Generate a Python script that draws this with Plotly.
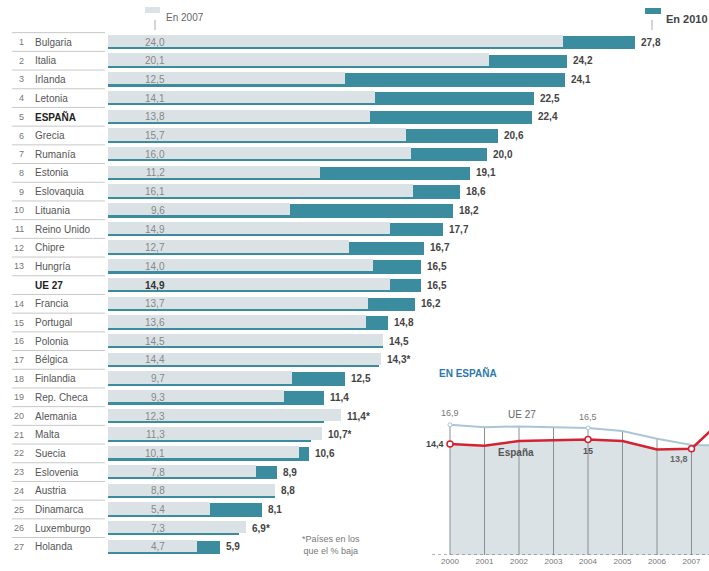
import plotly.graph_objects as go

W, H = 709, 571

countries = ["Bulgaria", "Italia", "Irlanda", "Letonia", "ESPAÑA", "Grecia", "Rumanía",
             "Estonia", "Eslovaquia", "Lituania", "Reino Unido", "Chipre", "Hungría",
             "UE 27", "Francia", "Portugal", "Polonia", "Bélgica", "Finlandia",
             "Rep. Checa", "Alemania", "Malta", "Suecia", "Eslovenia", "Austria",
             "Dinamarca", "Luxemburgo", "Holanda"]
ranks = ["1", "2", "3", "4", "5", "6", "7", "8", "9", "10", "11", "12", "13", "",
         "14", "15", "16", "17", "18", "19", "20", "21", "22", "23", "24", "25", "26", "27"]
v2007 = [24.0, 20.1, 12.5, 14.1, 13.8, 15.7, 16.0, 11.2, 16.1, 9.6, 14.9, 12.7, 14.0,
         14.9, 13.7, 13.6, 14.5, 14.4, 9.7, 9.3, 12.3, 11.3, 10.1, 7.8, 8.8, 5.4, 7.3, 4.7]
v2010 = [27.8, 24.2, 24.1, 22.5, 22.4, 20.6, 20.0, 19.1, 18.6, 18.2, 17.7, 16.7, 16.5,
         16.5, 16.2, 14.8, 14.5, 14.3, 12.5, 11.4, 11.4, 10.7, 10.6, 8.9, 8.8, 8.1, 6.9, 5.9]
bold_rows = ["ESPAÑA", "UE 27"]
bold_2007 = ["UE 27"]

years = [2000, 2001, 2002, 2003, 2004, 2005, 2006, 2007, 2008, 2009, 2010]
espana = [14.4, 14.2, 14.8, 14.9, 15.0, 14.8, 13.7, 13.8, 18.0, 20.5, 22.4]
ue27 = [16.9, 16.6, 16.7, 16.6, 16.5, 16.1, 15.1, 14.3, 14.2, 15.5, 16.5]
esp_marked = [0, 4, 7]
ue_marked = [0, 4]

TEAL = "#3a8c9e"
LGREY = "#dbe2e6"
FONT = "Liberation Sans, Arial, sans-serif"

def fmt(v):
    return f"{v:.1f}".replace(".", ",")

def px_x(x):
    return x / W

def px_y(y):
    return 1 - y / H

rows = list(range(len(countries)))

fig = go.Figure()
fig.add_trace(go.Bar(y=rows, x=v2010, orientation="h", marker=dict(color=TEAL, line_width=0),
                     width=0.72, offset=-0.33, hoverinfo="skip", showlegend=False))
fig.add_trace(go.Bar(y=rows, x=v2007, orientation="h", marker=dict(color=LGREY, line_width=0),
                     width=0.66, offset=-0.39, hoverinfo="skip", showlegend=False))

ann = []
shapes = []
for i, c in enumerate(countries):
    b = c in bold_rows
    b7 = c in bold_2007
    ann.append(dict(x=px_x(26), xref="paper", y=i, yref="y", text=ranks[i], showarrow=False,
                    xanchor="right", font=dict(size=9, color="#777", family=FONT)))
    ann.append(dict(x=px_x(33), xref="paper", y=i, yref="y",
                    text=(f"<b>{c}</b>" if b else c), showarrow=False, xanchor="left",
                    font=dict(size=10, color="#222" if b else "#555", family=FONT)))
    ann.append(dict(x=px_x(167), xref="paper", y=i, yref="y",
                    text=(f"<b>{fmt(v2007[i])}</b>" if b7 else fmt(v2007[i])), showarrow=False,
                    xanchor="right", font=dict(size=10, color="#333" if b7 else "#888", family=FONT)))
    lab = fmt(v2010[i]) + ("*" if v2010[i] < v2007[i] else "")
    ann.append(dict(x=max(v2007[i], v2010[i]), xref="x", y=i, yref="y", text=f"<b>{lab}</b>",
                    showarrow=False, xanchor="left", xshift=4,
                    font=dict(size=10, color="#444", family=FONT)))
    shapes.append(dict(type="line", xref="paper", yref="y", x0=px_x(12), x1=px_x(105),
                       y0=i - 0.5, y1=i - 0.5, line=dict(color="#c8c8c8", width=1)))

# legend
shapes.append(dict(type="rect", xref="paper", yref="paper", x0=px_x(145), x1=px_x(160),
                   y0=px_y(13), y1=px_y(7), fillcolor=LGREY, line_width=0))
shapes.append(dict(type="line", xref="paper", yref="paper", x0=px_x(155), x1=px_x(155),
                   y0=px_y(20), y1=px_y(30), line=dict(color="#aaa", width=1)))
ann.append(dict(x=px_x(164), xref="paper", y=px_y(10), yref="paper", text="En 2007",
                showarrow=False, xanchor="left", font=dict(size=10, color="#666", family=FONT)))
shapes.append(dict(type="rect", xref="paper", yref="paper", x0=px_x(645), x1=px_x(661),
                   y0=px_y(14), y1=px_y(8), fillcolor=TEAL, line_width=0))
shapes.append(dict(type="line", xref="paper", yref="paper", x0=px_x(652), x1=px_x(652),
                   y0=px_y(20), y1=px_y(30), line=dict(color="#aaa", width=1)))
ann.append(dict(x=px_x(664), xref="paper", y=px_y(11), yref="paper", text="<b>En 2010</b>",
                showarrow=False, xanchor="left", font=dict(size=11, color="#444", family=FONT)))

# footnote
ann.append(dict(x=px_x(331), xref="paper", y=px_y(558), yref="paper",
                text="*Países en los<br>que el % baja", showarrow=False, xanchor="center",
                font=dict(size=9, color="#777", family=FONT)))

# inset chart
fig.add_trace(go.Scatter(x=years, y=ue27, xaxis="x2", yaxis="y2", mode="lines",
                         line=dict(width=0, color=LGREY), fill="tozeroy", fillcolor=LGREY,
                         hoverinfo="skip", showlegend=False))
fig.add_trace(go.Scatter(x=years, y=espana, xaxis="x2", yaxis="y2", mode="lines",
                         line=dict(width=0, color="white"), fill="tonexty", fillcolor="white",
                         hoverinfo="skip", showlegend=False))
vx, vy = [], []
for yr, u in zip(years, ue27):
    vx += [yr, yr, None]
    vy += [0, u, None]
fig.add_trace(go.Scatter(x=vx, y=vy, xaxis="x2", yaxis="y2", mode="lines",
                         line=dict(width=1, color="#8a8f94"), hoverinfo="skip", showlegend=False))
fig.add_trace(go.Scatter(x=years, y=ue27, xaxis="x2", yaxis="y2", mode="lines",
                         line=dict(width=2, color="#a9c6d8"), hoverinfo="skip", showlegend=False))
fig.add_trace(go.Scatter(x=[years[i] for i in ue_marked], y=[ue27[i] for i in ue_marked],
                         xaxis="x2", yaxis="y2", mode="markers",
                         marker=dict(size=4, color="white", line=dict(color="#a9c6d8", width=1)),
                         hoverinfo="skip", showlegend=False))
fig.add_trace(go.Scatter(x=years, y=espana, xaxis="x2", yaxis="y2", mode="lines",
                         line=dict(width=2.5, color="#d42232"), hoverinfo="skip", showlegend=False))
fig.add_trace(go.Scatter(x=[years[i] for i in esp_marked], y=[espana[i] for i in esp_marked],
                         xaxis="x2", yaxis="y2", mode="markers",
                         marker=dict(size=6, color="white", line=dict(color="#d42232", width=1.5)),
                         hoverinfo="skip", showlegend=False))

shapes.append(dict(type="line", xref="paper", yref="y2", x0=px_x(432), x1=1, y0=0, y1=0,
                   line=dict(color="#666", width=1, dash="dot")))

ann += [
    dict(x=px_x(437), xref="paper", y=px_y(381), yref="paper", text="<b>EN ESPAÑA</b>",
         showarrow=False, xanchor="left", font=dict(size=10, color="#2a78ad", family=FONT)),
    dict(x=years[0], xref="x2", y=ue27[0], yref="y2", text=fmt(ue27[0]), showarrow=False,
         yshift=12, font=dict(size=9, color="#777", family=FONT)),
    dict(x=years[4], xref="x2", y=ue27[4], yref="y2", text=fmt(ue27[4]), showarrow=False,
         yshift=11, font=dict(size=9, color="#777", family=FONT)),
    dict(x=2002.1, xref="x2", y=ue27[2], yref="y2", text="UE 27", showarrow=False,
         yshift=12, font=dict(size=10, color="#666", family=FONT)),
    dict(x=years[0], xref="x2", y=espana[0], yref="y2", text=f"<b>{fmt(espana[0])}</b>",
         showarrow=False, xanchor="right", xshift=-4, font=dict(size=9, color="#444", family=FONT)),
    dict(x=2001.9, xref="x2", y=espana[2], yref="y2", text="<b>España</b>", showarrow=False,
         yshift=-11, font=dict(size=10, color="#555", family=FONT)),
    dict(x=years[4], xref="x2", y=espana[4], yref="y2", text="<b>15</b>", showarrow=False,
         yshift=-11, font=dict(size=9, color="#555", family=FONT)),
    dict(x=2006.65, xref="x2", y=espana[7], yref="y2", text="<b>13,8</b>", showarrow=False,
         yshift=-10, font=dict(size=9, color="#666", family=FONT)),
]

fig.update_layout(
    width=W, height=H, margin=dict(l=0, r=0, t=0, b=0),
    paper_bgcolor="white", plot_bgcolor="rgba(0,0,0,0)",
    barmode="overlay", bargap=0,
    xaxis=dict(range=[-108 / 18.95, (W - 108) / 18.95], domain=[0, 1], visible=False,
               fixedrange=True),
    yaxis=dict(range=[(H - 42) / 18.7, -42 / 18.7], domain=[0, 1], visible=False),
    xaxis2=dict(domain=[px_x(432), 1], anchor="y2",
                range=[2000 - 18 / 34.5, 2000 + (W - 450) / 34.5],
                tickvals=years, ticktext=[str(y) for y in years], showgrid=False,
                zeroline=False, showline=False, ticks="",
                tickfont=dict(size=8, color="#777", family=FONT)),
    yaxis2=dict(domain=[px_y(555), px_y(400)], anchor="x2", range=[0, 155 / 7.7],
                visible=False),
    shapes=shapes, annotations=ann,
    font=dict(family=FONT),
)

fig.write_html("out.html", config={"displayModeBar": False},
               post_script="document.body.style.margin='0';")
